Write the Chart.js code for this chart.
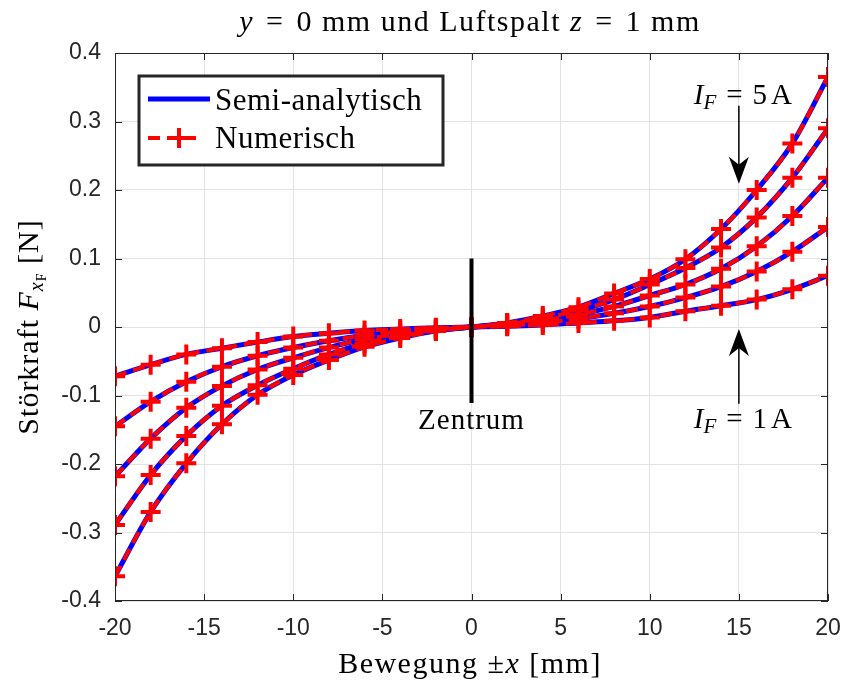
<!DOCTYPE html>
<html>
<head>
<meta charset="utf-8">
<script src="https://cdn.jsdelivr.net/npm/chart.js@4/dist/chart.umd.min.js"></script>
<style>
  html, body { margin: 0; padding: 0; background: #fff; }
  #wrap { width: 845px; height: 684px; position: relative; }
</style>
</head>
<body>
<div id="wrap"><canvas id="chart"></canvas></div>
<script>
// x positions [mm]
const xPos = [-20, -18, -16, -14, -12, -10, -8, -6, -4, -2, 0, 2, 4, 6, 8, 10, 12, 14, 16, 18, 20];

// Stoerkraft [N] for I_F = 1..5 A
const f1A = [-0.072, -0.055, -0.040, -0.031, -0.022, -0.014, -0.009, -0.005, -0.003, -0.001, 0, 0.001, 0.003, 0.006, 0.009, 0.014, 0.023, 0.031, 0.040, 0.055, 0.075];
const f2A = [-0.145, -0.109, -0.080, -0.058, -0.042, -0.030, -0.020, -0.012, -0.006, -0.002, 0, 0.002, 0.006, 0.012, 0.020, 0.030, 0.043, 0.059, 0.081, 0.110, 0.146];
const f3A = [-0.218, -0.163, -0.118, -0.086, -0.062, -0.045, -0.030, -0.018, -0.010, -0.004, 0, 0.004, 0.010, 0.018, 0.030, 0.046, 0.062, 0.085, 0.118, 0.162, 0.218];
const f4A = [-0.289, -0.216, -0.159, -0.115, -0.085, -0.061, -0.040, -0.024, -0.013, -0.005, 0, 0.005, 0.013, 0.024, 0.040, 0.062, 0.086, 0.116, 0.160, 0.218, 0.290];
const f5A = [-0.364, -0.270, -0.199, -0.142, -0.099, -0.070, -0.048, -0.029, -0.016, -0.006, 0, 0.006, 0.016, 0.029, 0.049, 0.070, 0.099, 0.143, 0.200, 0.268, 0.365];

const allSeries = [f1A, f2A, f3A, f4A, f5A];
const legendLabels = ['Semi-analytisch', 'Numerisch'];

const SERIF = '"Liberation Serif", "DejaVu Serif", serif';
const SANS = '"Liberation Sans", Arial, sans-serif';
const AXIS_COL = '#262626';

const toPoints = arr => xPos.map((x, i) => ({ x: x, y: arr[i] }));

const datasets = [];
allSeries.forEach(s => {
  datasets.push({
    data: toPoints(s),
    borderColor: '#0000ff',
    borderWidth: 5,
    pointRadius: 0,
    cubicInterpolationMode: 'monotone',
    order: 2
  });
});
allSeries.forEach(s => {
  datasets.push({
    data: toPoints(s),
    borderColor: '#ff0000',
    borderWidth: 4,
    borderDash: [12, 7],
    pointStyle: 'cross',
    pointRadius: 10,
    pointBorderWidth: 4,
    pointBorderColor: '#ff0000',
    cubicInterpolationMode: 'monotone',
    order: 1
  });
});

// helper: draw text made of styled runs, centred on x
function drawRuns(ctx, runs, x, y, size, spacing) {
  const fontOf = r => `${r.italic ? 'italic ' : ''}${r.size || size}px ${SERIF}`;
  ctx.letterSpacing = (spacing || 0) + 'px';
  let total = 0;
  runs.forEach(r => {
    if (r.gap) { total += r.gap; return; }
    ctx.font = fontOf(r);
    total += ctx.measureText(r.t).width;
  });
  let cx = x - total / 2;
  ctx.textAlign = 'left';
  ctx.textBaseline = 'alphabetic';
  runs.forEach(r => {
    if (r.gap) { cx += r.gap; return; }
    ctx.font = fontOf(r);
    ctx.fillText(r.t, cx, y + (r.dy || 0));
    cx += ctx.measureText(r.t).width;
  });
  ctx.letterSpacing = '0px';
}

function arrow(ctx, x, y0, y1) {
  // line from y0 to tip y1, MATLAB vback2 style head
  const dir = y1 > y0 ? 1 : -1;
  const hl = 27, hw = 10, notch = 8;
  ctx.strokeStyle = '#000';
  ctx.lineWidth = 1.5;
  ctx.beginPath();
  ctx.moveTo(x, y0);
  ctx.lineTo(x, y1 - dir * notch);
  ctx.stroke();
  ctx.fillStyle = '#000';
  ctx.beginPath();
  ctx.moveTo(x, y1);
  ctx.lineTo(x - hw, y1 - dir * hl);
  ctx.lineTo(x, y1 - dir * (hl - notch));
  ctx.lineTo(x + hw, y1 - dir * hl);
  ctx.closePath();
  ctx.fill();
}

const decorPlugin = {
  id: 'decor',
  afterDatasetsDraw(chart) {
    const ctx = chart.ctx;
    const xs = chart.scales.x, ys = chart.scales.y;
    const a = chart.chartArea;
    ctx.save();

    // axes box with inward ticks
    ctx.strokeStyle = AXIS_COL;
    ctx.lineWidth = 1;
    ctx.strokeRect(a.left + 0.5, a.top + 0.5, a.right - a.left - 1, a.bottom - a.top - 1);
    const tl = 7;
    ctx.beginPath();
    xs.ticks.forEach(t => {
      const px = Math.round(xs.getPixelForValue(t.value)) + 0.5;
      ctx.moveTo(px, a.bottom); ctx.lineTo(px, a.bottom - tl);
      ctx.moveTo(px, a.top); ctx.lineTo(px, a.top + tl);
    });
    ys.ticks.forEach(t => {
      const py = Math.round(ys.getPixelForValue(t.value)) + 0.5;
      ctx.moveTo(a.left, py); ctx.lineTo(a.left + tl, py);
      ctx.moveTo(a.right, py); ctx.lineTo(a.right - tl, py);
    });
    ctx.stroke();

    // Zentrum marker
    const x0 = xs.getPixelForValue(0);
    ctx.strokeStyle = '#000';
    ctx.lineWidth = 4;
    ctx.beginPath();
    ctx.moveTo(x0, ys.getPixelForValue(0.1));
    ctx.lineTo(x0, ys.getPixelForValue(-0.111));
    ctx.stroke();
    ctx.fillStyle = '#000';
    drawRuns(ctx, [{ t: 'Zentrum' }], x0, ys.getPixelForValue(-0.149), 29, 1);

    // arrows
    const x15 = xs.getPixelForValue(15);
    arrow(ctx, x15, ys.getPixelForValue(0.323), ys.getPixelForValue(0.209));
    arrow(ctx, x15, ys.getPixelForValue(-0.112), ys.getPixelForValue(-0.003));
    ctx.fillStyle = '#000';
    const lab = n => [
      { t: 'I', italic: true },
      { t: 'F', italic: true, size: 21, dy: 5 },
      { gap: 10 }, { t: '=' }, { gap: 10 },
      { t: n }, { gap: 4 }, { t: 'A' }
    ];
    drawRuns(ctx, lab('5'), x15 + 4, ys.getPixelForValue(0.325), 29);
    drawRuns(ctx, lab('1'), x15 + 4, ys.getPixelForValue(-0.148), 29);

    // legend box
    const lx = 139, ly = 76, lw = 304, lh = 89;
    ctx.fillStyle = '#fff';
    ctx.fillRect(lx, ly, lw, lh);
    ctx.strokeStyle = AXIS_COL;
    ctx.lineWidth = 3;
    ctx.strokeRect(lx, ly, lw, lh);
    // entry 1
    ctx.strokeStyle = '#0000ff';
    ctx.lineWidth = 5;
    ctx.beginPath();
    ctx.moveTo(148, 99); ctx.lineTo(210, 99);
    ctx.stroke();
    // entry 2
    ctx.strokeStyle = '#ff0000';
    ctx.lineWidth = 4;
    ctx.setLineDash([12, 7]);
    ctx.beginPath();
    ctx.moveTo(148, 138); ctx.lineTo(196, 138);
    ctx.stroke();
    ctx.setLineDash([]);
    ctx.beginPath();
    ctx.moveTo(179, 128); ctx.lineTo(179, 148);
    ctx.moveTo(169, 138); ctx.lineTo(189, 138);
    ctx.stroke();
    ctx.fillStyle = '#000';
    ctx.font = `31px ${SERIF}`;
    ctx.textAlign = 'left';
    ctx.textBaseline = 'alphabetic';
    ctx.letterSpacing = '0.5px';
    ctx.fillText(legendLabels[0], 215, 110);
    ctx.fillText(legendLabels[1], 215, 148);
    ctx.letterSpacing = '0px';

    // title
    drawRuns(ctx, [
      { t: 'y', italic: true }, { gap: 12 }, { t: '=' }, { gap: 12 }, { t: '0 mm und Luftspalt ' },
      { t: 'z', italic: true }, { gap: 12 }, { t: '=' }, { gap: 12 }, { t: '1 mm' }
    ], 470, 31, 30, 1.5);

    // x label
    drawRuns(ctx, [
      { t: 'Bewegung ' }, { t: '\u00b1' }, { t: 'x', italic: true }, { t: ' [mm]' }
    ], 470, 673, 30, 1.5);

    // y label (rotated)
    ctx.translate(38, 327);
    ctx.rotate(-Math.PI / 2);
    drawRuns(ctx, [
      { t: 'St\u00f6rkraft ' }, { t: 'F', italic: true },
      { t: 'x', italic: true, size: 20, dy: 5 },
      { t: 'F', size: 14, dy: 8 },
      { t: ' [N]' }
    ], 0, 0, 30, 1);

    ctx.restore();
  }
};

new Chart(document.getElementById('chart'), {
  type: 'line',
  data: { datasets },
  options: {
    responsive: true,
    maintainAspectRatio: false,
    animation: false,
    events: [],
    layout: { padding: { top: 53, right: 17, left: 0, bottom: 0 } },
    plugins: {
      legend: { display: false },
      tooltip: { enabled: false },
      title: { display: false }
    },
    scales: {
      x: {
        type: 'linear',
        min: -20, max: 20,
        afterFit: s => { s.height = 83; s.paddingLeft = 0; s.paddingRight = 0; },
        grid: { color: '#e3e3e3', drawTicks: false },
        border: { display: false },
        ticks: {
          stepSize: 5,
          padding: 14,
          color: AXIS_COL,
          font: { family: SANS, size: 23 },
          maxRotation: 0
        }
      },
      y: {
        min: -0.4, max: 0.4,
        afterFit: s => { s.width = 115; s.paddingTop = 0; s.paddingBottom = 0; },
        grid: { color: '#e3e3e3', drawTicks: false },
        border: { display: false },
        ticks: {
          stepSize: 0.1,
          padding: 14,
          color: AXIS_COL,
          font: { family: SANS, size: 23 },
          callback: v => {
            const r = Math.round(v * 10) / 10;
            return r === 0 ? '0' : r.toFixed(1);
          }
        }
      }
    }
  },
  plugins: [decorPlugin]
});
</script>
</body>
</html>
